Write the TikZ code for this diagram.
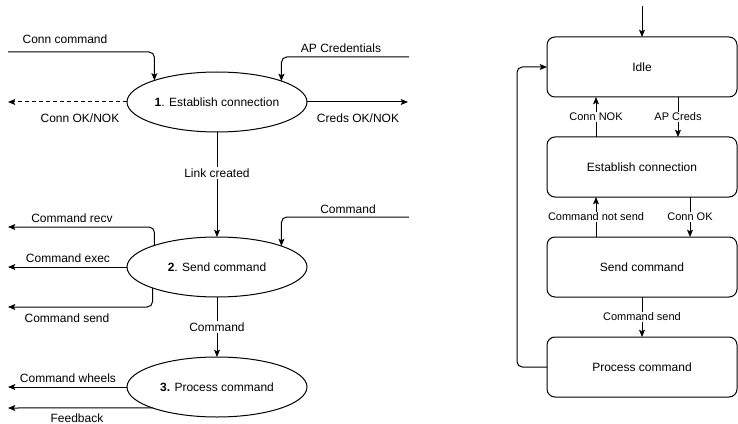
\documentclass[tikz,border=0pt]{standalone}
\usepackage{fontspec}
\setmainfont{Liberation Sans}
\usetikzlibrary{shapes.geometric,arrows.meta}
\begin{document}
\begin{tikzpicture}[x=0.75pt,y=-0.75pt, line width=0.75pt,
  font=\fontsize{9}{10.8}\selectfont,
  >={Stealth[length=5.5pt,width=4.5pt,inset=1.2pt]},
  procnode/.style={ellipse, draw, minimum width=135pt, minimum height=45pt, inner sep=0pt, outer sep=0pt},
  statebox/.style={rectangle, draw, rounded corners=6pt, minimum width=142.5pt, minimum height=45pt, inner sep=0pt, outer sep=0pt},
  lbl/.style={inner sep=1pt},
  onl/.style={fill=white, inner sep=1pt},
  onls/.style={fill=white, inner sep=1pt, font=\fontsize{8.25}{9.9}\selectfont},
  rc/.style={rounded corners=4pt},
  dsh/.style={dash pattern=on 3pt off 2.25pt}]
\useasboundingbox (0,0) rectangle (738,424);

% left: data flow
\node[procnode] (e1) at (217,102) {\textbf{1}. Establish connection};
\node[procnode] (e2) at (217,267) {\textbf{2}. Send command};
\node[procnode] (e3) at (217,387) {\textbf{3.} Process command};

\coordinate (cin) at (8,52);
\coordinate (apin) at (409,57);
\coordinate (okout) at (8,102);
\coordinate (credout) at (408,102);
\coordinate (cmdin) at (409,217);
\coordinate (recvout) at (8,227);
\coordinate (execout) at (8,267);
\coordinate (sendout) at (8,307);
\coordinate (wheelsout) at (8,387);
\coordinate (fbout) at (8,408);

\draw[->, rc] (cin) -| (e1.161.75) node[lbl] at (65,39) {Conn command};
\draw[->, rc] (apin) -| (e1.18.25) node[lbl] at (341,48) {AP Credentials};
\draw[->, dsh] (e1.west) -- (okout) node[lbl] at (80,118) {Conn OK/NOK};
\draw[->] (e1.east) -- (credout) node[lbl] at (358,118) {Creds OK/NOK};
\draw[->] (e1.south) -- node[onl, pos=0.39] {Link created} (e2.north);

\draw[->, rc] (cmdin) -| (e2.18.25) node[lbl] at (348,209) {Command};
\draw[->, rc] (e2.161.75) |- (recvout) node[lbl] at (72,218) {Command recv};
\draw[->] (e2.west) -- (execout) node[lbl] at (68,258) {Command exec};
\draw[->, rc] (e2.198.25) |- (sendout) node[lbl] at (67,318) {Command send};
\draw[->] (e2.south) -- node[onl] {Command} (e3.north);

\draw[->] (e3.west) -- (wheelsout) node[lbl] at (68,378) {Command wheels};
\draw[->] (e3.198.25) -- (fbout) node[lbl] at (77,418) {Feedback};

% right: state machine
\node[statebox] (idle) at (642,67) {Idle};
\node[statebox] (est) at (642,167) {Establish connection};
\node[statebox] (send) at (642,267) {Send command};
\node[statebox] (pc) at (642,367) {Process command};
\coordinate (topin) at (642,6);

\draw[->] (topin) -- (idle.north);
\draw[->] ([xshift=-34.5pt]est.north) -- node[onls] {Conn NOK} ([xshift=-34.5pt]idle.south);
\draw[->] ([xshift=27pt]idle.south) -- node[onls] {AP Creds} ([xshift=27pt]est.north);
\draw[->] ([xshift=-34.5pt]send.north) -- node[onls] {Command not send} ([xshift=-34.5pt]est.south);
\draw[->] ([xshift=36pt]est.south) -- node[onls] {Conn OK} ([xshift=36pt]send.north);
\draw[->] (send.south) -- node[onls] {Command send} (pc.north);
\draw[->, rc] (pc.west) -- ++(-30,0) |- (idle.west);
\end{tikzpicture}
\end{document}
